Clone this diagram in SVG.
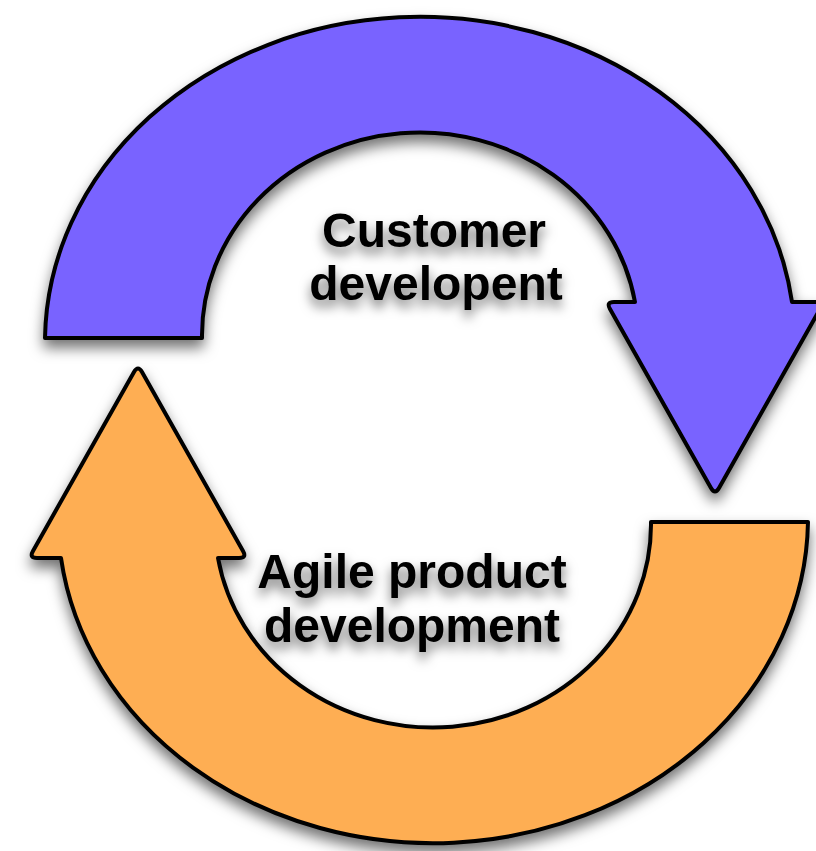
<svg xmlns="http://www.w3.org/2000/svg" width="816" height="851" viewBox="0 0 816 851">
  <defs>
    <filter id="shadow" x="-20%" y="-20%" width="140%" height="140%">
      <feDropShadow dx="0" dy="8" stdDeviation="7" flood-color="#000" flood-opacity="0.55"/>
    </filter>
    <filter id="tshadow" x="-20%" y="-40%" width="140%" height="180%">
      <feDropShadow dx="0" dy="7" stdDeviation="6" flood-color="#000" flood-opacity="0.55"/>
    </filter>
  </defs>
  <style>
    .arrow { stroke: #000; stroke-width: 4; stroke-linejoin: round; }
    .purple { fill: #7963FF; }
    .orange { fill: #FEAE52; }
    .label { font-family: "Liberation Sans", Arial, Helvetica, sans-serif; font-weight: bold; font-size: 48px; fill: #000; text-anchor: middle; }
  </style>
  <rect width="816" height="851" fill="#fff"/>
  <g id="customer-development" filter="url(#shadow)">
    <path class="arrow purple" d="M 45,338 A 375,326 0 0 1 792,302 L 816,302 Q 824,302 820,309 L 719,488 Q 715,495 711,488 L 610,309 Q 606,302 614,302 L 635,302 A 218,203 0 0 0 202,338 Z"/>
  </g>
  <g id="agile-product-development" filter="url(#shadow)">
    <path class="arrow orange" transform="rotate(180 426.5 430)" d="M 45,338 A 375,326 0 0 1 792,302 L 816,302 Q 824,302 820,309 L 719,488 Q 715,495 711,488 L 610,309 Q 606,302 614,302 L 635,302 A 218,203 0 0 0 202,338 Z"/>
  </g>
  <g id="labels" filter="url(#tshadow)">
    <text class="label" x="434" y="247">Customer</text>
    <text class="label" x="436" y="300">developent</text>
    <text class="label" x="412" y="588">Agile product</text>
    <text class="label" x="412" y="642">development</text>
  </g>
</svg>
